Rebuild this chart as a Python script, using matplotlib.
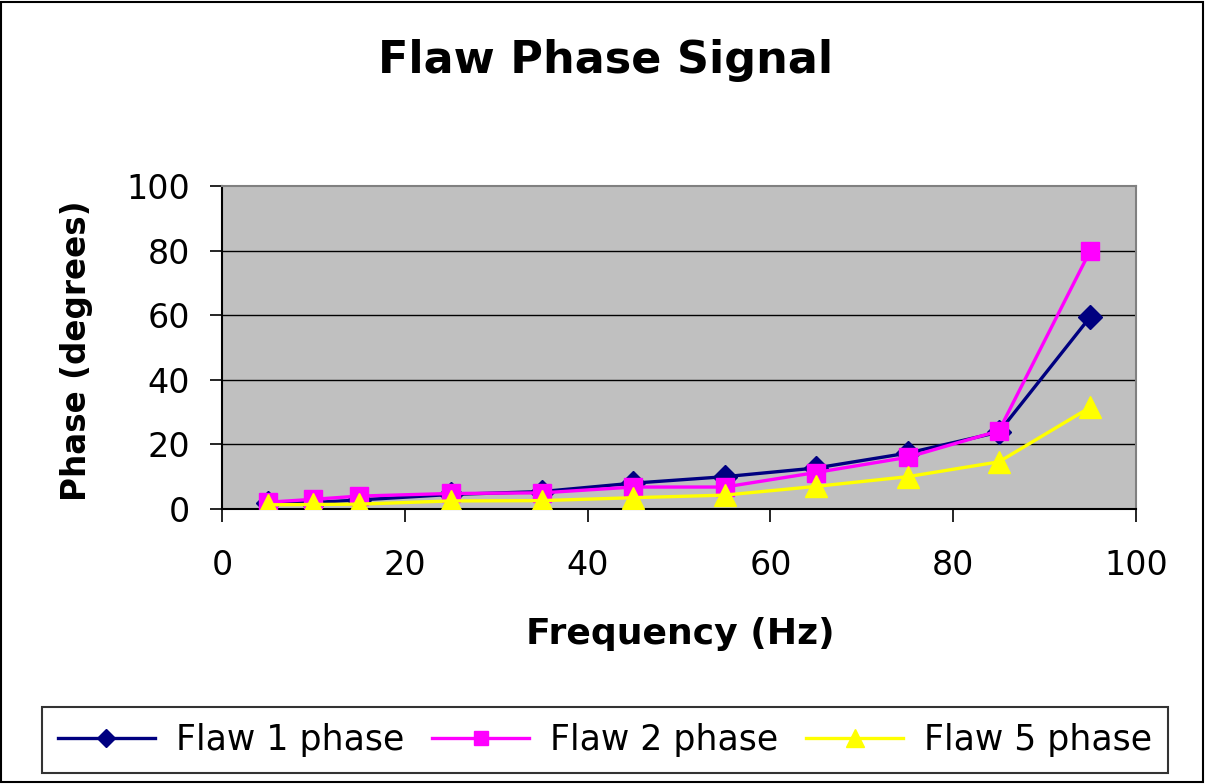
import numpy as np
import matplotlib
matplotlib.use('Agg')
import matplotlib.pyplot as plt
from matplotlib.patches import Rectangle

plt.rcParams['font.family'] = ['DejaVu Sans']

# measured phase vs frequency for three flaws
freq = [5, 10, 15, 25, 35, 45, 55, 65, 75, 85, 95]
flaw1 = [1.9, 2.0, 2.8, 4.5, 5.4, 8.0, 10.0, 12.7, 17.3, 23.8, 59.5]
flaw2 = [2.1, 3.0, 4.0, 4.8, 5.0, 6.8, 6.8, 11.3, 16.0, 24.2, 80.0]
flaw5 = [1.3, 1.4, 1.5, 2.5, 2.6, 3.5, 4.3, 7.0, 10.0, 14.6, 31.5]

W, H = 1205, 784
fig = plt.figure(figsize=(W / 100, H / 100), dpi=100)
fig.patch.set_facecolor('white')
fig.patches.append(Rectangle((0.001, 0.003), 0.997, 0.995, transform=fig.transFigure,
                             fill=False, edgecolor='black', linewidth=1.5))

ax = fig.add_axes([222 / W, 1 - 509 / H, 914 / W, 323 / H])
ax.set_facecolor('#C0C0C0')
for sp in ax.spines.values():
    sp.set_color('#808080')
    sp.set_linewidth(1.5)
ax.spines['left'].set_color('black')
ax.spines['bottom'].set_color('black')

for y in [20, 40, 60, 80]:
    ax.axhline(y, color='black', linewidth=1.0, zorder=1)

ax.plot(freq, flaw1, color='#000080', marker='D', markersize=12, linewidth=2.4,
        label='Flaw 1 phase', zorder=3)
ax.plot(freq, flaw2, color='#FF00FF', marker='s', markersize=13, linewidth=2.4,
        label='Flaw 2 phase', zorder=4)
ax.plot(freq, flaw5, color='#FFFF00', marker='^', markersize=16, linewidth=2.4,
        label='Flaw 5 phase', zorder=5)

ax.set_xlim(0, 100)
ax.set_ylim(0, 100)
ax.set_xticks(np.arange(0, 101, 20))
ax.set_yticks(np.arange(0, 101, 20))
ax.tick_params(direction='out', length=9, width=1.2, labelsize=24)
ax.tick_params(axis='x', pad=20)
ax.tick_params(axis='y', pad=14)

fig.text(606 / W, 1 - 61 / H, 'Flaw Phase Signal', ha='center', va='center',
         fontsize=32, fontweight='bold')
fig.text(680 / W, 1 - 634 / H, 'Frequency (Hz)', ha='center', va='center',
         fontsize=26, fontweight='bold')
fig.text(77 / W, 1 - 351 / H, 'Phase (degrees)', ha='center', va='center',
         fontsize=23.5, fontweight='bold', rotation=90)

leg = fig.legend(loc='center', bbox_to_anchor=(605 / W, 1 - 740 / H), ncol=3,
                 fontsize=25, frameon=True, fancybox=False, edgecolor='black',
                 handlelength=2.8, columnspacing=0.8, handletextpad=0.6,
                 borderpad=0.45, markerscale=0.8)
leg.get_frame().set_linewidth(1.5)

fig.savefig('out.png', dpi=100)
